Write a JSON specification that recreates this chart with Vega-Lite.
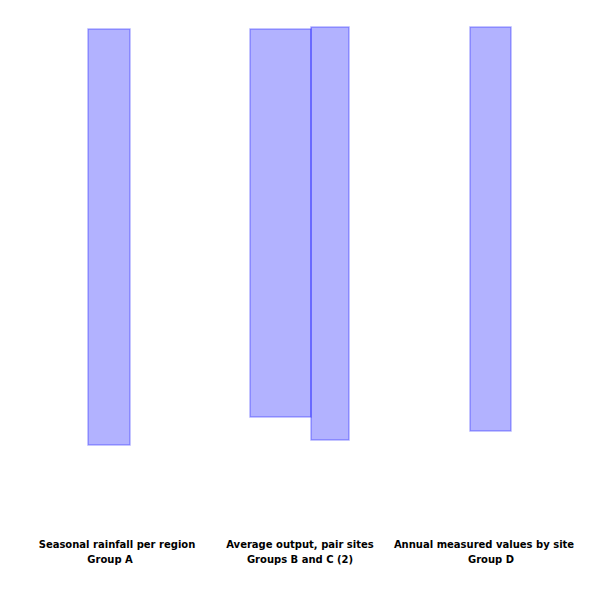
{
  "$schema": "https://vega.github.io/schema/vega-lite/v6.json",
  "width": 600,
  "height": 600,
  "padding": 0,
  "autosize": {"type": "none"},
  "config": {"view": {"stroke": null}},
  "datasets": {
    "bars": [
      {"id": "A", "x0": 88, "x1": 130, "y0": 29, "y1": 445},
      {"id": "B", "x0": 250, "x1": 311, "y0": 29, "y1": 417},
      {"id": "C", "x0": 311, "x1": 349, "y0": 27, "y1": 440},
      {"id": "D", "x0": 470, "x1": 511, "y0": 27, "y1": 431}
    ],
    "labels": [
      {"x": 117, "y": 545, "label": "Seasonal rainfall per region"},
      {"x": 110, "y": 560, "label": "Group A"},
      {"x": 300, "y": 545, "label": "Average output, pair sites"},
      {"x": 300, "y": 560, "label": "Groups B and C (2)"},
      {"x": 484, "y": 545, "label": "Annual measured values by site"},
      {"x": 491, "y": 560, "label": "Group D"}
    ]
  },
  "layer": [
    {
      "data": {"name": "bars"},
      "mark": {"type": "rect", "fill": "blue", "fillOpacity": 0.3, "stroke": "blue", "strokeOpacity": 0.3, "strokeWidth": 1.5},
      "encoding": {
        "x": {"field": "x0", "type": "quantitative", "scale": {"domain": [0, 600]}, "axis": null},
        "x2": {"field": "x1"},
        "y": {"field": "y0", "type": "quantitative", "scale": {"domain": [0, 600], "reverse": true}, "axis": null},
        "y2": {"field": "y1"}
      }
    },
    {
      "data": {"name": "labels"},
      "mark": {"type": "text", "font": "DejaVu Sans", "fontSize": 10, "fontWeight": "bold", "color": "black", "baseline": "middle", "align": "center"},
      "encoding": {
        "x": {"field": "x", "type": "quantitative", "scale": {"domain": [0, 600]}, "axis": null},
        "y": {"field": "y", "type": "quantitative", "scale": {"domain": [0, 600], "reverse": true}, "axis": null},
        "text": {"field": "label"}
      }
    }
  ]
}
